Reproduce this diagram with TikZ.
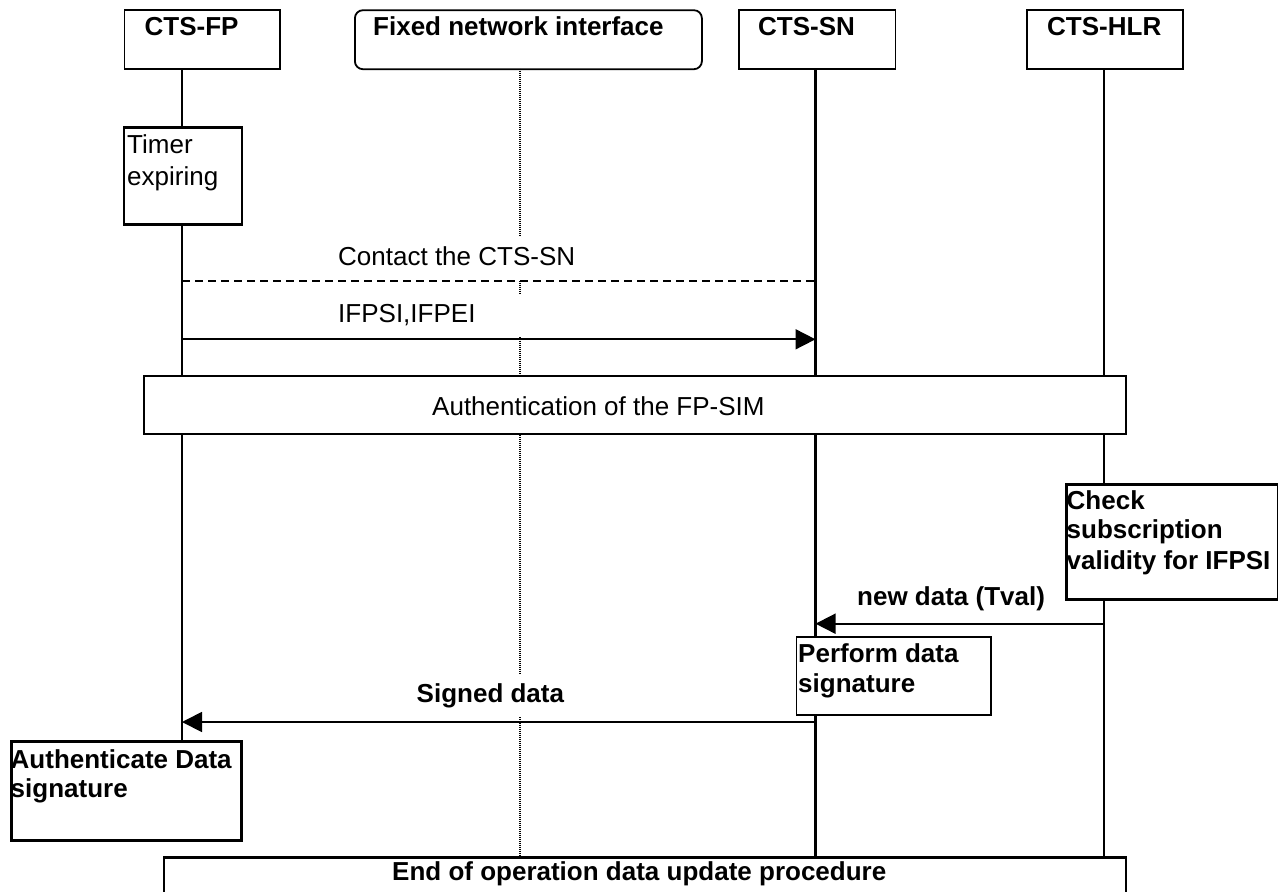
\documentclass[tikz,border=0pt]{standalone}
\usepackage{fontspec}
\setmainfont{Liberation Sans}
\usetikzlibrary{arrows.meta}
\begin{document}
\begin{tikzpicture}[x=1pt,y=-1pt,
  every node/.style={inner sep=0pt, font=\fontsize{26pt}{30pt}\selectfont},
  hbox/.style={draw, line width=1.8pt, anchor=north west},
  thinbox/.style={draw, line width=1.6pt, fill=white, anchor=north west},
  thickbox/.style={draw, line width=2.8pt, fill=white, anchor=north west},
  txt/.style={anchor=base west},
  btxt/.style={anchor=base west, font=\fontsize{26pt}{30pt}\selectfont\bfseries},
  lbl/.style={anchor=base west, fill=white, inner xsep=2pt, inner ysep=8pt, text height=20pt, text depth=7pt},
  blbl/.style={lbl, font=\fontsize{26pt}{30pt}\selectfont\bfseries},
  life/.style={line width=2.4pt},
  dotline/.style={line width=1.1pt, dash pattern=on 1pt off 1pt},
  msg/.style={line width=1.8pt, -{Triangle[length=20pt,width=20pt]}},
  dmsg/.style={line width=1.6pt, dash pattern=on 8pt off 5pt}
]
\useasboundingbox (0,0) rectangle (1278,892);

% lifeline end points
\coordinate (fpT) at (182,68.5);
\coordinate (fpE) at (182,740);
\coordinate (fniT) at (520,68.5);
\coordinate (fniE) at (520,856);
\coordinate (snT) at (815.5,68.5);
\coordinate (snE) at (815.5,856);
\coordinate (hlrT) at (1104,68.5);
\coordinate (hlrE) at (1104,856);

% lifelines
\draw[life] (fpT) -- (fpE);
\draw[dotline] (fniT) -- (fniE);
\draw[life] (snT) -- (snE);
\draw[life] (hlrT) -- (hlrE);

% header boxes
\node[hbox, minimum width=155.5pt, minimum height=59pt] (fp) at (123.5,9.3) {};
\node[hbox, rounded corners=8pt, minimum width=347pt, minimum height=59pt] (fni) at (354,9.3) {};
\node[hbox, minimum width=156.5pt, minimum height=59pt] (sn) at (738,9.3) {};
\node[hbox, minimum width=156pt, minimum height=59pt] (hlr) at (1026.3,9.3) {};
\node[btxt] (fpL) at (144.5,35) {CTS-FP};
\node[btxt] (fniL) at (373,35) {Fixed network interface};
\node[btxt] (snL) at (758,35) {CTS-SN};
\node[btxt] (hlrL) at (1047,35) {CTS-HLR};

% activity boxes
\node[thickbox, minimum width=118pt, minimum height=97pt] (timer) at (122.5,125.7) {};
\node[txt] (timer1) at (127,153.5) {Timer};
\node[txt] (timer2) at (127,185) {expiring};

\node[thinbox, minimum width=982pt, minimum height=58pt] (auth) at (143,375) {};
\node[txt] (authL) at (432,415) {Authentication of the FP-SIM};

\node[thickbox, minimum width=212pt, minimum height=115pt] (check) at (1065,482.7) {};
\node[btxt] (check1) at (1066.5,509.3) {Check};
\node[btxt] (check2) at (1066.5,538.6) {subscription};
\node[btxt] (check3) at (1066.5,569) {validity for IFPSI};

\node[thinbox, minimum width=194.3pt, minimum height=78.3pt] (perf) at (795.7,636) {};
\node[btxt] (perf1) at (798,662) {Perform data};
\node[btxt] (perf2) at (798,692) {signature};

\node[thickbox, minimum width=230.2pt, minimum height=99pt] (authd) at (9.8,740) {};
\node[btxt] (authd1) at (10.5,768.5) {Authenticate Data};
\node[btxt] (authd2) at (10.5,797) {signature};

\node[thickbox, minimum width=962pt, minimum height=70pt] (endb) at (162.5,856) {};
\node[btxt] (endL) at (392,880) {End of operation data update procedure};

% message labels
\node[lbl] (m1L) at (336,265) {Contact the CTS-SN};
\node[lbl, text width=200pt, align=left] (m2L) at (336,322) {IFPSI,IFPEI};
\node[blbl] (m3L) at (855,605) {new data (Tval)};
\node[blbl] (m4L) at (414.5,702) {Signed data};

% message end points
\coordinate (m1s) at (182,281);
\coordinate (m1e) at (815.5,281);
\coordinate (m2s) at (182,339.3);
\coordinate (m2e) at (815.5,339.3);
\coordinate (m3s) at (1104,623.7);
\coordinate (m3e) at (815.5,623.7);
\coordinate (m4s) at (815.5,722);
\coordinate (m4e) at (182,722);

\draw[dmsg] (m1s) -- (m1e);
\draw[msg] (m2s) -- (m2e);
\draw[msg] (m3s) -- (m3e);
\draw[msg] (m4s) -- (m4e);
\end{tikzpicture}
\end{document}
